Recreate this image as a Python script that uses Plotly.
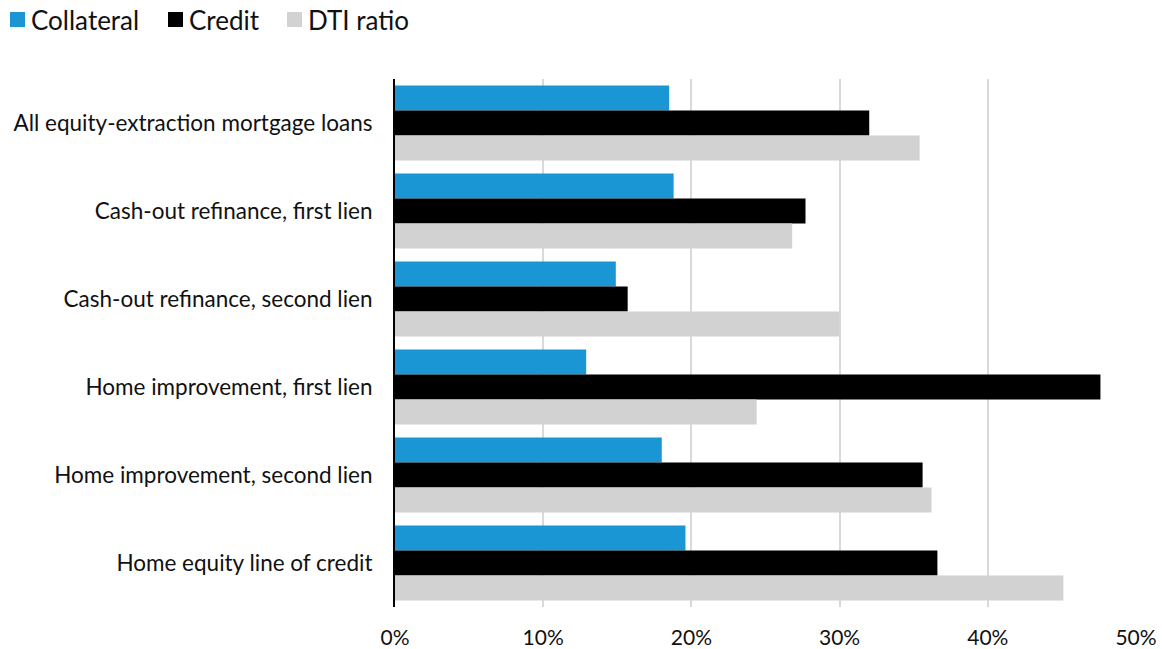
import plotly.graph_objects as go

categories = [
    "All equity-extraction mortgage loans",
    "Cash-out refinance, first lien",
    "Cash-out refinance, second lien",
    "Home improvement, first lien",
    "Home improvement, second lien",
    "Home equity line of credit",
]
collateral = [18.5, 18.8, 14.9, 12.9, 18.0, 19.6]
credit = [32.0, 27.7, 15.7, 47.6, 35.6, 36.6]
dti_ratio = [35.4, 26.8, 30.0, 24.4, 36.2, 45.1]

series_names = ["Collateral", "Credit", "DTI ratio"]
series_values = [collateral, credit, dti_ratio]
series_colors = ["#1a96d4", "#000000", "#d2d2d2"]

W, H = 1162, 649
ML, MR, MT, MB = 395, 26, 79, 42
plot_w = W - ML - MR
plot_h = H - MT - MB

fig = go.Figure()
for name, vals, color in zip(series_names, series_values, series_colors):
    fig.add_trace(go.Bar(
        y=categories, x=[v / 100 for v in vals], name=name, orientation="h",
        marker=dict(color=color, line=dict(width=0)),
        showlegend=False,
    ))

# Legend drawn as swatches + labels across the top-left corner
def px_x(px):
    return (px - ML) / plot_w

def px_y(py):
    return (H - MB - py) / plot_h

legend_swatch_left = [10, 168, 287]
shapes, annotations = [], []
for name, color, left in zip(series_names, series_colors, legend_swatch_left):
    shapes.append(dict(
        type="rect", xref="paper", yref="paper",
        x0=px_x(left), x1=px_x(left + 15), y0=px_y(27), y1=px_y(12),
        fillcolor=color, line=dict(width=0),
    ))
    annotations.append(dict(
        text=name, xref="paper", yref="paper",
        x=px_x(left + 19), y=px_y(20), xanchor="left", yanchor="middle",
        showarrow=False, font=dict(size=26, color="#111111"),
    ))

font = "Lato, 'Open Sans', sans-serif"
fig.update_layout(
    width=W, height=H,
    margin=dict(l=ML, r=MR, t=MT, b=MB),
    paper_bgcolor="white", plot_bgcolor="white",
    barmode="group", bargap=0.148, bargroupgap=0,
    font=dict(family=font, size=22, color="#111111"),
    showlegend=False,
    shapes=shapes, annotations=annotations,
    xaxis=dict(
        range=[0, 0.5], tickformat=".0%", dtick=0.1,
        showgrid=True, gridcolor="#d9d9d9", gridwidth=2,
        zeroline=False, showline=False,
        ticks="", ticklabelstandoff=16, automargin=False,
        tickfont=dict(size=21),
    ),
    yaxis=dict(
        autorange="reversed", showgrid=False,
        showline=True, linecolor="#000000", linewidth=2,
        ticks="", ticklabelstandoff=16, automargin=False,
        tickfont=dict(size=22.5),
    ),
)

fig.write_html("out.html")
